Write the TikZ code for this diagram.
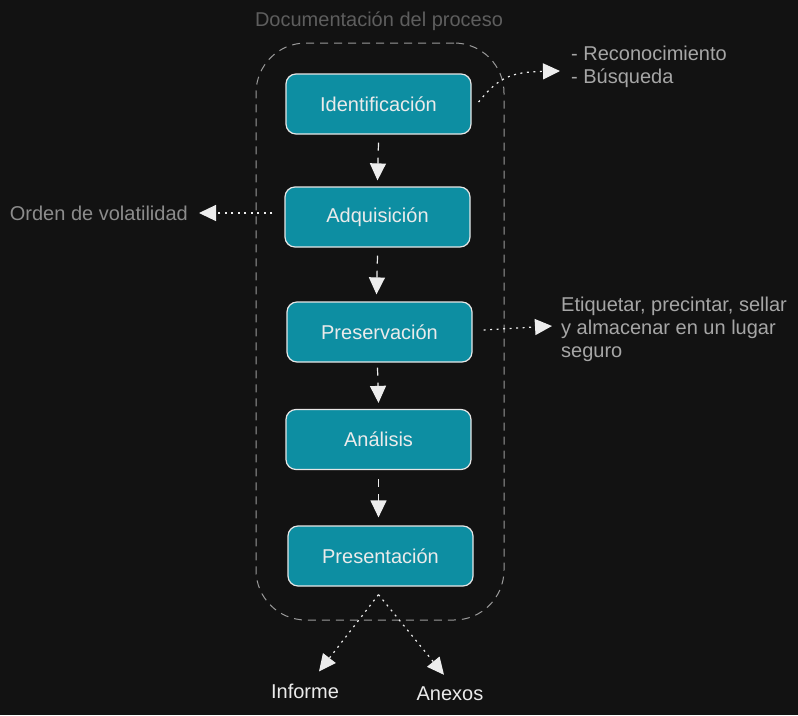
\documentclass[tikz,border=0pt]{standalone}
\usepackage{fontspec}
\setmainfont{Liberation Sans}
\usetikzlibrary{arrows.meta,calc}
\definecolor{bg}{HTML}{121212}
\definecolor{boxfill}{HTML}{0D8EA2}
\definecolor{boxline}{HTML}{E6E6E6}
\definecolor{titlegray}{HTML}{5E5E5E}
\definecolor{notegray}{HTML}{A6A6A6}
\definecolor{ordgray}{HTML}{8C8C8C}
\definecolor{lineclr}{HTML}{EDEDED}
\definecolor{contclr}{HTML}{9A9A9A}
\tikzset{
  stepbox/.style={draw=boxline, line width=1.2pt, fill=boxfill, rounded corners=10pt,
    minimum width=185pt, minimum height=60pt, text=white!92!black,
    font=\fontsize{20}{23}\selectfont},
  flowarrow/.style={draw=lineclr, line width=1.2pt, dash pattern=on 8pt off 7pt,
    -{Triangle[length=17pt,width=16pt]}},
  dotarrow/.style={draw=lineclr, line width=1.2pt, dash pattern=on 2pt off 4.5pt,
    -{Triangle[length=17pt,width=16pt]}},
  notetext/.style={text=notegray, font=\fontsize{20}{23}\selectfont, align=left, inner sep=0pt},
  endtext/.style={text=white!92!black, font=\fontsize{20}{23}\selectfont, inner sep=0pt},
}
\begin{document}
\begin{tikzpicture}[x=1pt,y=-1pt]
\fill[bg] (0,0) rectangle (798,715);
\useasboundingbox (0,0) rectangle (798,715);

\node[draw=contclr, line width=1pt, dash pattern=on 8pt off 6pt, rounded corners=50pt,
  minimum width=248pt, minimum height=577pt, inner sep=0pt] (doc) at (380,331.5) {};
\node[text=titlegray, font=\fontsize{20}{23}\selectfont, inner sep=0pt] (doctitle) at (379,21) {Documentación del proceso};

\node[stepbox] (ident) at (378.5,104) {Identificación};
\node[stepbox] (adq) at (377.5,217) {Adquisición};
\node[stepbox] (pres) at (379.5,332) {Preservación};
\node[stepbox] (anal) at (378.5,439.5) {Análisis};
\node[stepbox] (prst) at (380.5,556) {Presentación};

\draw[flowarrow] ($(ident.south)+(0,8)$) -- ($(adq.north)+(0,-6)$);
\draw[flowarrow] ($(adq.south)+(0,8)$) -- ($(pres.north)+(-3,-7)$);
\draw[flowarrow] ($(pres.south)+(-2,5)$) -- ($(anal.north)+(0,-6)$);
\draw[flowarrow] ($(anal.south)+(0,9)$) -- ($(prst.north)+(-2,-8)$);

\node[notetext, anchor=west] (recon) at (571,66.5) {- Reconocimiento\\- Búsqueda};
\node[text=ordgray, font=\fontsize{20}{23}\selectfont, inner sep=0pt, anchor=east] (orden) at (188,213) {Orden de volatilidad};
\node[notetext, anchor=west] (etiq) at (561,329) {Etiquetar, precintar, sellar\\y almacenar en un lugar\\seguro};
\node[endtext] (inf) at (305,691) {Informe};
\node[endtext] (anx) at (450,694) {Anexos};

\draw[dotarrow] ($(ident.east)+(7,-2)$) .. controls (498,78) and (510,72) .. ($(recon.west)+(-11,4.5)$);
\draw[dotarrow] ($(adq.west)+(-12,-4)$) -- ($(orden.east)+(11,0)$);
\draw[dotarrow] ($(pres.east)+(11,-2)$) -- ($(etiq.west)+(-9,-3)$);
\draw[dotarrow] ($(prst.south)+(-2,8)$) -- ($(inf.north)+(14,-12)$);
\draw[dotarrow] ($(prst.south)+(-2,8)$) -- ($(anx.north)+(-6,-12)$);
\end{tikzpicture}
\end{document}
